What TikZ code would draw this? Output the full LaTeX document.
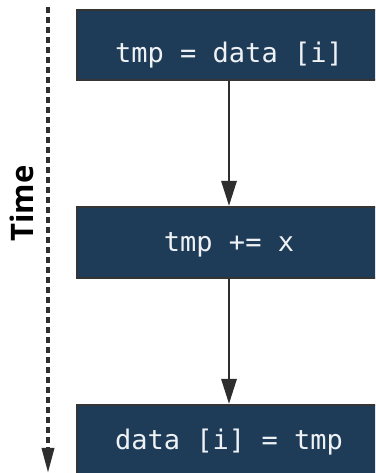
\documentclass[tikz,border=0pt]{standalone}
\usepackage{fontspec}
\setmainfont{Open Sans}
\setmonofont{DejaVu Sans Mono}
\usetikzlibrary{arrows.meta}
\definecolor{boxfill}{HTML}{1E3B58}
\definecolor{boxline}{HTML}{353535}
\definecolor{ink}{HTML}{2E2E2E}
\definecolor{codetext}{HTML}{EEF2F5}
\tikzset{
  stepbox/.style={draw=boxline, line width=2.5pt, fill=boxfill},
  code/.style={text=codetext, font=\ttfamily\fontsize{27}{30}\selectfont, inner sep=0pt, anchor=base},
  flow/.style={draw=ink, line width=2.8pt, -{Triangle[length=25pt,width=15pt]}},
  timeline/.style={draw=ink, line width=3.5pt, dash pattern=on 6pt off 4pt, -{Triangle[length=25pt,width=12pt]}},
}
\begin{document}
\begin{tikzpicture}[x=1pt,y=1pt]
  \useasboundingbox (0,0) rectangle (375,473);
  \clip (0,0) rectangle (375,473);
  \fill[white] (0,0) rectangle (375,473);

  % three steps, one below the other
  \draw[stepbox] (77,463) rectangle (385,393);
  \draw[stepbox] (77,266) rectangle (385,195);
  \draw[stepbox] (77,68) rectangle (385,-10);

  \node[code] (s1) at (229,410) {tmp = data [i]};
  \node[code] (s2) at (229,221) {tmp += x};
  \node[code] (s3) at (229,23) {data [i] = tmp};

  \coordinate (b1) at (229,392);
  \coordinate (t2) at (229,267);
  \coordinate (b2) at (229,194);
  \coordinate (t3) at (229,69);
  \draw[flow] (b1) -- (t2);
  \draw[flow] (b2) -- (t3);

  % time axis
  \coordinate (tstart) at (48,466);
  \coordinate (tend) at (48,0);
  \draw[timeline] (tstart) -- (tend);
  \node[rotate=90, anchor=base, inner sep=0pt, font=\bfseries\fontsize{31}{33}\selectfont] (time) at (33,269.5) {Time};
\end{tikzpicture}
\end{document}
